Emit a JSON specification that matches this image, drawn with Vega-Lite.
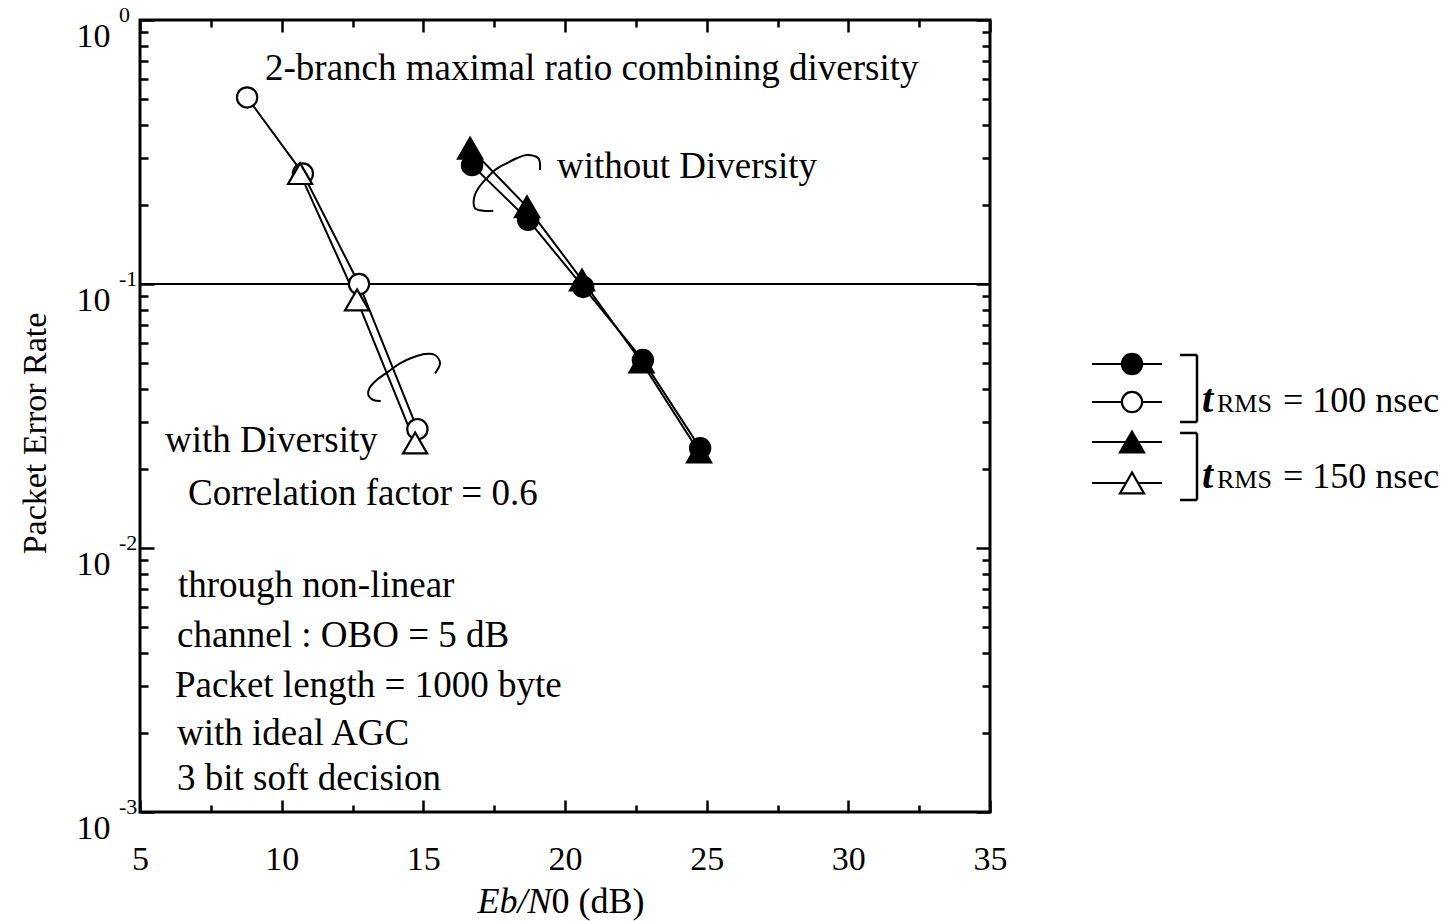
{
  "$schema": "https://vega.github.io/schema/vega-lite/v6.json",
  "width": 850,
  "height": 792,
  "autosize": {"type": "none"},
  "padding": {"left": 140, "top": 20, "right": 453, "bottom": 109},
  "background": "white",
  "config": {
    "view": {"stroke": "black", "strokeWidth": 3},
    "font": "Liberation Serif",
    "mark": {"color": "black"},
    "axis": {
      "labelFont": "Liberation Serif",
      "titleFont": "Liberation Serif",
      "labelColor": "black",
      "titleColor": "black",
      "tickColor": "black",
      "grid": false,
      "domain": false,
      "tickWidth": 2.5,
      "titleFontWeight": "normal",
      "labelFlush": false,
      "labelOverlap": false
    },
    "text": {"font": "Liberation Serif", "color": "black"}
  },
  "datasets": {
    "refline": [{"per": 0.1}],
    "curves": [
      {"ebn0": 8.78, "per": 0.509, "diversity": "with", "trms": "100 nsec"},
      {"ebn0": 10.75, "per": 0.262, "diversity": "with", "trms": "100 nsec"},
      {"ebn0": 12.73, "per": 0.1, "diversity": "with", "trms": "100 nsec"},
      {"ebn0": 14.79, "per": 0.0282, "diversity": "with", "trms": "100 nsec"},
      {"ebn0": 16.72, "per": 0.282, "diversity": "without", "trms": "100 nsec"},
      {"ebn0": 18.7, "per": 0.175, "diversity": "without", "trms": "100 nsec"},
      {"ebn0": 20.64, "per": 0.0975, "diversity": "without", "trms": "100 nsec"},
      {"ebn0": 22.75, "per": 0.0515, "diversity": "without", "trms": "100 nsec"},
      {"ebn0": 24.77, "per": 0.0239, "diversity": "without", "trms": "100 nsec"},
      {"ebn0": 10.65, "per": 0.262, "diversity": "with", "trms": "150 nsec"},
      {"ebn0": 12.66, "per": 0.087, "diversity": "with", "trms": "150 nsec"},
      {"ebn0": 14.71, "per": 0.025, "diversity": "with", "trms": "150 nsec"},
      {"ebn0": 16.65, "per": 0.327, "diversity": "without", "trms": "150 nsec"},
      {"ebn0": 18.66, "per": 0.196, "diversity": "without", "trms": "150 nsec"},
      {"ebn0": 20.6, "per": 0.1035, "diversity": "without", "trms": "150 nsec"},
      {"ebn0": 22.7, "per": 0.0507, "diversity": "without", "trms": "150 nsec"},
      {"ebn0": 24.73, "per": 0.0231, "diversity": "without", "trms": "150 nsec"}
    ],
    "notes": [
      {"x": 9.412, "y": 0.5925, "label": "2-branch maximal ratio combining diversity"},
      {"x": 19.718, "y": 0.2521, "label": "without Diversity"},
      {"x": 5.882, "y": 0.0231, "label": "with Diversity"},
      {"x": 6.694, "y": 0.01455, "label": "Correlation factor = 0.6"},
      {"x": 6.341, "y": 0.006523, "label": "through non-linear"},
      {"x": 6.306, "y": 0.004217, "label": "channel : OBO = 5 dB"},
      {"x": 6.235, "y": 0.002727, "label": "Packet length = 1000 byte"},
      {"x": 6.306, "y": 0.001794, "label": "with ideal AGC"},
      {"x": 6.306, "y": 0.001212, "label": "3 bit soft decision"}
    ],
    "exps": [
      {"v": 1, "e": "0"},
      {"v": 0.1, "e": "-1"},
      {"v": 0.01, "e": "-2"},
      {"v": 0.001, "e": "-3"}
    ],
    "squiggles": [
      {"id": "a", "i": 0, "x": 19.118, "y": 0.2703},
      {"id": "a", "i": 1, "x": 19.058, "y": 0.2994},
      {"id": "a", "i": 2, "x": 18.648, "y": 0.3081},
      {"id": "a", "i": 3, "x": 18.295, "y": 0.2994},
      {"id": "a", "i": 4, "x": 17.942, "y": 0.2866},
      {"id": "a", "i": 5, "x": 17.529, "y": 0.2703},
      {"id": "a", "i": 6, "x": 17.236, "y": 0.2514},
      {"id": "a", "i": 7, "x": 16.94, "y": 0.2304},
      {"id": "a", "i": 8, "x": 16.788, "y": 0.2112},
      {"id": "a", "i": 9, "x": 16.824, "y": 0.1935},
      {"id": "a", "i": 10, "x": 17.116, "y": 0.1895},
      {"id": "a", "i": 11, "x": 17.469, "y": 0.1895},
      {"id": "b", "i": 0, "x": 15.412, "y": 0.0459},
      {"id": "b", "i": 1, "x": 15.588, "y": 0.05008},
      {"id": "b", "i": 2, "x": 15.412, "y": 0.05384},
      {"id": "b", "i": 3, "x": 15.059, "y": 0.05431},
      {"id": "b", "i": 4, "x": 14.646, "y": 0.05277},
      {"id": "b", "i": 5, "x": 14.176, "y": 0.05008},
      {"id": "b", "i": 6, "x": 13.764, "y": 0.04655},
      {"id": "b", "i": 7, "x": 13.354, "y": 0.04329},
      {"id": "b", "i": 8, "x": 13.093, "y": 0.04026},
      {"id": "b", "i": 9, "x": 13.058, "y": 0.03799},
      {"id": "b", "i": 10, "x": 13.234, "y": 0.03636},
      {"id": "b", "i": 11, "x": 13.495, "y": 0.03604}
    ],
    "legend": [
      {"trms": "100 nsec", "diversity": "without", "ly": 0.04977},
      {"trms": "100 nsec", "diversity": "with", "ly": 0.03572},
      {"trms": "150 nsec", "diversity": "without", "ly": 0.0252},
      {"trms": "150 nsec", "diversity": "with", "ly": 0.01763}
    ],
    "brackets": [
      {"trms": "100 nsec", "top": 0.05384, "bottom": 0.03001, "ty": 0.03275, "label": "= 100 nsec"},
      {"trms": "150 nsec", "top": 0.02727, "bottom": 0.0152, "ty": 0.01688, "label": "= 150 nsec"}
    ]
  },
  "layer": [
    {
      "data": {"name": "refline"},
      "mark": {"type": "rule", "strokeWidth": 2},
      "encoding": {
        "y": {"field": "per", "type": "quantitative", "scale": {"type": "log", "domain": [0.001, 1], "nice": false}, "axis": null}
      }
    },
    {
      "data": {"name": "curves"},
      "mark": {"type": "line", "strokeWidth": 2},
      "encoding": {
        "x": {
          "field": "ebn0", "type": "quantitative",
          "scale": {"type": "linear", "domain": [5, 35], "nice": false, "zero": false},
          "axis": {
            "orient": "bottom",
            "values": [5, 7.5, 10, 12.5, 15, 17.5, 20, 22.5, 25, 27.5, 30, 32.5, 35],
            "labelExpr": "datum.value % 5 === 0 ? toString(datum.value) : ''",
            "labelFontSize": 34,
            "labelPadding": 42,
            "labelBaseline": "top",
            "tickSize": {"condition": {"test": "datum.value % 5 === 0", "value": -12}, "value": -7},
            "title": "Eb/N",
            "titleFontStyle": "italic",
            "titleFontSize": 36,
            "titleX": 337,
            "titleY": 100,
            "titleAlign": "left",
            "titleBaseline": "alphabetic"
          }
        },
        "y": {
          "field": "per", "type": "quantitative",
          "scale": {"type": "log", "domain": [0.001, 1], "nice": false},
          "axis": {
            "orient": "left",
            "values": [0.001, 0.002, 0.003, 0.004, 0.005, 0.006, 0.007, 0.008, 0.009, 0.01, 0.02, 0.03, 0.04, 0.05, 0.06, 0.07, 0.08, 0.09, 0.1, 0.2, 0.3, 0.4, 0.5, 0.6, 0.7, 0.8, 0.9, 1],
            "labelExpr": "abs(log(datum.value)/LN10 - round(log(datum.value)/LN10)) < 0.001 ? '10' : ''",
            "labelFontSize": 34,
            "labelPadding": 44,
            "labelBaseline": "middle",
            "labelOffset": 16,
            "tickSize": {"condition": {"test": "abs(log(datum.value)/LN10 - round(log(datum.value)/LN10)) < 0.001", "value": -14}, "value": -8},
            "title": "Packet Error Rate",
            "titleFontSize": 34,
            "titleX": -105,
            "titleY": 413,
            "titleAngle": -90,
            "titleAlign": "center",
            "titleBaseline": "middle"
          }
        },
        "detail": [{"field": "diversity"}, {"field": "trms"}]
      }
    },
    {
      "data": {"name": "curves"},
      "mark": {"type": "point", "stroke": "black", "strokeWidth": 2.2, "opacity": 1, "fillOpacity": 1},
      "encoding": {
        "x": {
          "field": "ebn0", "type": "quantitative",
          "scale": {"type": "linear", "domain": [5, 35], "nice": false, "zero": false},
          "axis": {
            "orient": "bottom",
            "ticks": false,
            "labels": false,
            "title": "0 (dB)",
            "titleFontSize": 36,
            "titleX": 411,
            "titleY": 100,
            "titleAlign": "left",
            "titleBaseline": "alphabetic"
          }
        },
        "y": {"field": "per", "type": "quantitative", "scale": {"type": "log", "domain": [0.001, 1], "nice": false}, "axis": null},
        "shape": {"field": "trms", "type": "nominal", "scale": {"domain": ["100 nsec", "150 nsec"], "range": ["circle", "triangle-up"]}, "legend": null},
        "fill": {"field": "diversity", "type": "nominal", "scale": {"domain": ["without", "with"], "range": ["black", "white"]}, "legend": null},
        "size": {"field": "trms", "type": "nominal", "scale": {"domain": ["100 nsec", "150 nsec"], "range": [410, 580]}, "legend": null}
      }
    },
    {
      "data": {"name": "squiggles"},
      "mark": {"type": "line", "strokeWidth": 2, "interpolate": "catmull-rom"},
      "encoding": {
        "x": {"field": "x", "type": "quantitative", "scale": {"type": "linear", "domain": [5, 35], "nice": false, "zero": false}, "axis": null},
        "y": {"field": "y", "type": "quantitative", "scale": {"type": "log", "domain": [0.001, 1], "nice": false}, "axis": null},
        "detail": {"field": "id"},
        "order": {"field": "i", "type": "quantitative"}
      }
    },
    {
      "data": {"name": "notes"},
      "mark": {"type": "text", "align": "left", "baseline": "alphabetic", "fontSize": 37},
      "encoding": {
        "x": {
          "field": "x", "type": "quantitative",
          "scale": {"type": "linear", "domain": [5, 35], "nice": false, "zero": false},
          "axis": {
            "orient": "top",
            "values": [5, 7.5, 10, 12.5, 15, 17.5, 20, 22.5, 25, 27.5, 30, 32.5, 35],
            "labels": false,
            "tickSize": {"condition": {"test": "datum.value % 5 === 0", "value": -12}, "value": -7},
            "title": null
          }
        },
        "y": {
          "field": "y", "type": "quantitative",
          "scale": {"type": "log", "domain": [0.001, 1], "nice": false},
          "axis": {
            "orient": "right",
            "values": [0.001, 0.002, 0.003, 0.004, 0.005, 0.006, 0.007, 0.008, 0.009, 0.01, 0.02, 0.03, 0.04, 0.05, 0.06, 0.07, 0.08, 0.09, 0.1, 0.2, 0.3, 0.4, 0.5, 0.6, 0.7, 0.8, 0.9, 1],
            "labels": false,
            "tickSize": {"condition": {"test": "abs(log(datum.value)/LN10 - round(log(datum.value)/LN10)) < 0.001", "value": -14}, "value": -8},
            "title": null
          }
        },
        "text": {"field": "label"}
      }
    },
    {
      "data": {"name": "exps"},
      "mark": {"type": "text", "align": "left", "baseline": "middle", "fontSize": 22, "dx": -21, "dy": -5},
      "encoding": {
        "x": {"datum": 5, "type": "quantitative", "scale": {"type": "linear", "domain": [5, 35], "nice": false, "zero": false}, "axis": null},
        "y": {"field": "v", "type": "quantitative", "scale": {"type": "log", "domain": [0.001, 1], "nice": false}, "axis": null},
        "text": {"field": "e"}
      }
    },
    {
      "data": {"name": "legend"},
      "mark": {"type": "rule", "strokeWidth": 2},
      "encoding": {
        "x": {"datum": 38.6, "type": "quantitative", "scale": {"type": "linear", "domain": [5, 35], "nice": false, "zero": false}, "axis": null},
        "x2": {"datum": 41.071},
        "y": {"field": "ly", "type": "quantitative", "scale": {"type": "log", "domain": [0.001, 1], "nice": false}, "axis": null}
      }
    },
    {
      "data": {"name": "legend"},
      "mark": {"type": "point", "stroke": "black", "strokeWidth": 2.2, "opacity": 1, "fillOpacity": 1},
      "encoding": {
        "x": {"datum": 40.012, "type": "quantitative", "scale": {"type": "linear", "domain": [5, 35], "nice": false, "zero": false}, "axis": null},
        "y": {"field": "ly", "type": "quantitative", "scale": {"type": "log", "domain": [0.001, 1], "nice": false}, "axis": null},
        "shape": {"field": "trms", "type": "nominal", "scale": {"domain": ["100 nsec", "150 nsec"], "range": ["circle", "triangle-up"]}, "legend": null},
        "fill": {"field": "diversity", "type": "nominal", "scale": {"domain": ["without", "with"], "range": ["black", "white"]}, "legend": null},
        "size": {"field": "trms", "type": "nominal", "scale": {"domain": ["100 nsec", "150 nsec"], "range": [410, 580]}, "legend": null}
      }
    },
    {
      "data": {"name": "brackets"},
      "mark": {"type": "rule", "strokeWidth": 2.5},
      "encoding": {
        "x": {"datum": 42.306, "type": "quantitative", "scale": {"type": "linear", "domain": [5, 35], "nice": false, "zero": false}, "axis": null},
        "y": {"field": "top", "type": "quantitative", "scale": {"type": "log", "domain": [0.001, 1], "nice": false}, "axis": null},
        "y2": {"field": "bottom"}
      }
    },
    {
      "data": {"name": "brackets"},
      "mark": {"type": "rule", "strokeWidth": 2.5},
      "encoding": {
        "x": {"datum": 41.706, "type": "quantitative", "scale": {"type": "linear", "domain": [5, 35], "nice": false, "zero": false}, "axis": null},
        "x2": {"datum": 42.306},
        "y": {"field": "top", "type": "quantitative", "scale": {"type": "log", "domain": [0.001, 1], "nice": false}, "axis": null}
      }
    },
    {
      "data": {"name": "brackets"},
      "mark": {"type": "rule", "strokeWidth": 2.5},
      "encoding": {
        "x": {"datum": 41.706, "type": "quantitative", "scale": {"type": "linear", "domain": [5, 35], "nice": false, "zero": false}, "axis": null},
        "x2": {"datum": 42.306},
        "y": {"field": "bottom", "type": "quantitative", "scale": {"type": "log", "domain": [0.001, 1], "nice": false}, "axis": null}
      }
    },
    {
      "data": {"name": "brackets"},
      "mark": {"type": "text", "align": "left", "baseline": "alphabetic", "fontSize": 40, "fontStyle": "italic", "fontWeight": "bold"},
      "encoding": {
        "x": {"datum": 42.482, "type": "quantitative", "scale": {"type": "linear", "domain": [5, 35], "nice": false, "zero": false}, "axis": null},
        "y": {"field": "ty", "type": "quantitative", "scale": {"type": "log", "domain": [0.001, 1], "nice": false}, "axis": null},
        "text": {"value": "t"}
      }
    },
    {
      "data": {"name": "brackets"},
      "mark": {"type": "text", "align": "left", "baseline": "alphabetic", "fontSize": 26},
      "encoding": {
        "x": {"datum": 43.012, "type": "quantitative", "scale": {"type": "linear", "domain": [5, 35], "nice": false, "zero": false}, "axis": null},
        "y": {"field": "ty", "type": "quantitative", "scale": {"type": "log", "domain": [0.001, 1], "nice": false}, "axis": null},
        "text": {"value": "RMS"}
      }
    },
    {
      "data": {"name": "brackets"},
      "mark": {"type": "text", "align": "left", "baseline": "alphabetic", "fontSize": 36},
      "encoding": {
        "x": {"datum": 45.341, "type": "quantitative", "scale": {"type": "linear", "domain": [5, 35], "nice": false, "zero": false}, "axis": null},
        "y": {"field": "ty", "type": "quantitative", "scale": {"type": "log", "domain": [0.001, 1], "nice": false}, "axis": null},
        "text": {"field": "label"}
      }
    }
  ],
  "resolve": {"axis": {"x": "independent", "y": "independent"}}
}
